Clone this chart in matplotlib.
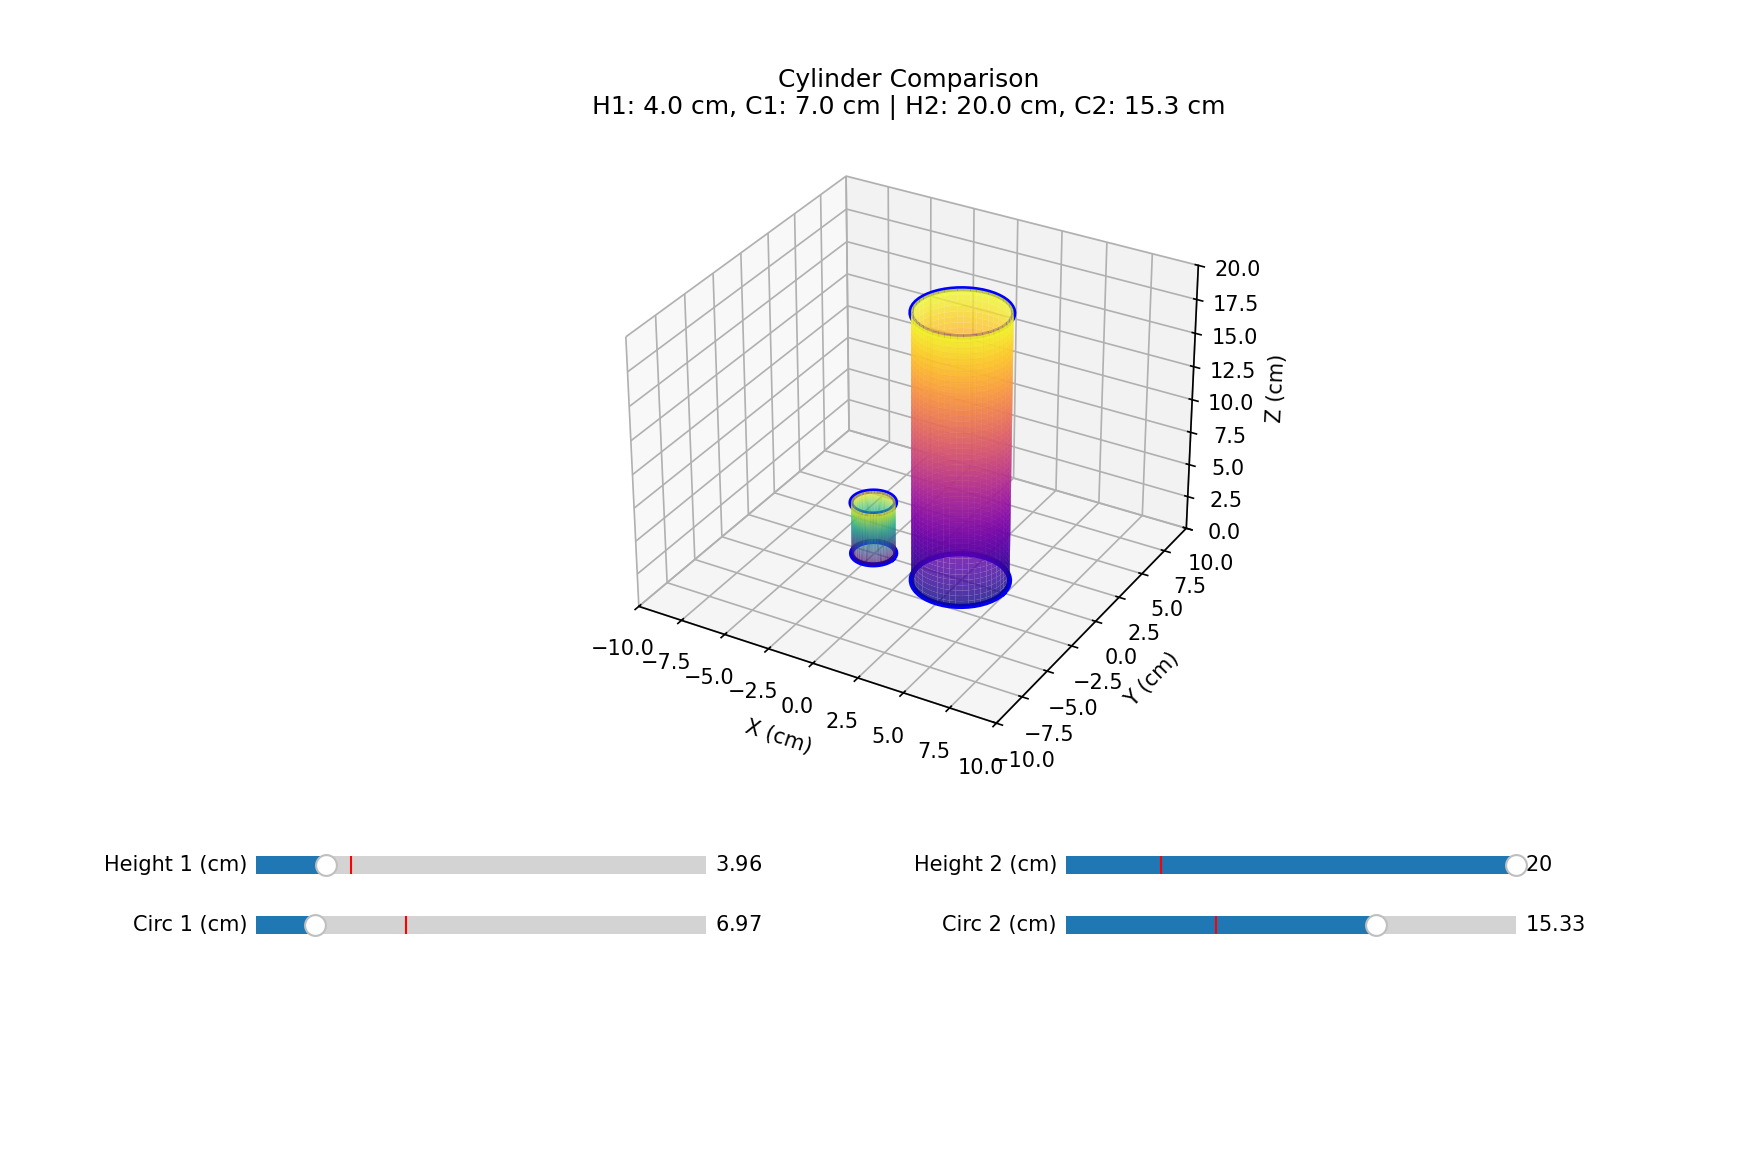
"""
Cylinder comparison: two cylinders on a 3D axes with four sliders below
"""
import numpy as np
import matplotlib
matplotlib.use('Agg')
import matplotlib.pyplot as plt
from matplotlib.widgets import Slider

# Values
heights = [3.96, 20.0]
circumferences = [6.97, 15.33]
centers_x = [-2.55, 2.45]
centers_y = [0.0, 0.0]
cmap_names = ['viridis', 'plasma']

slider_labels = ['Height 1 (cm)', 'Circ 1 (cm)', 'Height 2 (cm)', 'Circ 2 (cm)']
slider_values = [3.96, 6.97, 20.0, 15.33]
slider_inits = [5.0, 10.0, 5.0, 10.0]
slider_mins = [1.0, 5.0, 1.0, 5.0]
slider_maxs = [20.0, 20.0, 20.0, 20.0]
slider_lefts = [0.1454, 0.1454, 0.6046, 0.6046]
slider_bottoms = [0.2329, 0.1809, 0.2329, 0.1809]


def draw_cylinder(ax, height, circ, cx, cy, cmap_name, order):
    radius = circ / (2 * np.pi)
    theta = np.linspace(0, 2 * np.pi, 50)
    z = np.linspace(0, height, 50)

    # Outlines, under the side surface
    for level in [0, height]:
        ax.plot(cx + radius * np.cos(theta), cy + radius * np.sin(theta), level,
                color='b', lw=2.5, zorder=order)

    # Side
    theta_grid, z_grid = np.meshgrid(theta, z)
    x_grid = cx + radius * np.cos(theta_grid)
    y_grid = cy + radius * np.sin(theta_grid)
    ax.plot_surface(x_grid, y_grid, z_grid, cmap=cmap_name, alpha=0.8, zorder=order + 1)


fig = plt.figure(figsize=(1763 / 150, 1151 / 150), dpi=150)
ax = fig.add_axes([0.1281, 0.3368, 0.775, 0.553], projection='3d', computed_zorder=False)

for i in range(len(heights)):
    draw_cylinder(ax, heights[i], circumferences[i], centers_x[i], centers_y[i], cmap_names[i], 2 * i + 1)

ax.set(xlim=[-10, 10], ylim=[-10, 10], zlim=[0, 20],
       xlabel='X (cm)', ylabel='Y (cm)', zlabel='Z (cm)')
ax.set_title(f'Cylinder Comparison\nH1: {heights[0]:.1f} cm, C1: {circumferences[0]:.1f} cm | '
             f'H2: {heights[1]:.1f} cm, C2: {circumferences[1]:.1f} cm')

# Sliders
sliders = []
for i in range(len(slider_labels)):
    ax_s = fig.add_axes([slider_lefts[i], slider_bottoms[i], 0.2553, 0.0312])
    sliders.append(Slider(ax_s, slider_labels[i], slider_mins[i], slider_maxs[i],
                          valinit=slider_inits[i]))
    sliders[i].set_val(slider_values[i])

plt.savefig('out.png', dpi=150)
